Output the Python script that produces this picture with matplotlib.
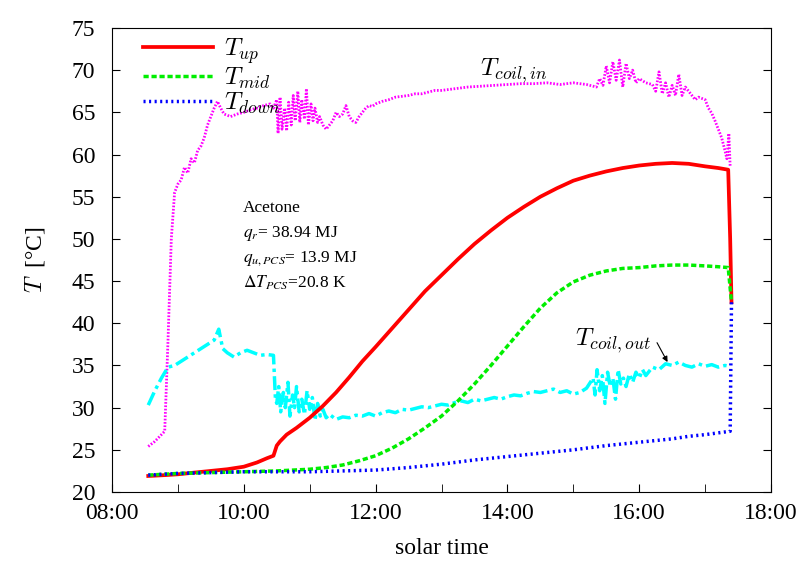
import matplotlib
matplotlib.use("Agg")
import matplotlib.pyplot as plt

plt.rcParams['font.family'] = ['Liberation Serif', 'DejaVu Serif']
plt.rcParams['mathtext.fontset'] = 'cm'

# ---- data (time in decimal hours) ----
t_up = [8.55, 8.8, 9.0, 9.25, 9.5, 9.75, 10.0, 10.2, 10.35, 10.45, 10.5, 10.55, 10.65, 10.8, 11.0,
        11.2, 11.4, 11.6, 11.8, 12.0, 12.25, 12.5, 12.75, 13.0, 13.25, 13.5, 13.75, 14.0, 14.25,
        14.5, 14.75, 15.0, 15.25, 15.5, 15.75, 16.0, 16.25, 16.5, 16.75, 17.0, 17.2, 17.35, 17.38, 17.4]
T_up = [21.9, 22.0, 22.1, 22.3, 22.5, 22.7, 23.0, 23.5, 24.0, 24.3, 25.5, 26.0, 26.8, 27.6, 28.8,
        30.2, 31.8, 33.6, 35.5, 37.2, 39.4, 41.6, 43.8, 45.7, 47.6, 49.4, 51.0, 52.5, 53.8,
        55.0, 56.0, 56.9, 57.5, 58.0, 58.4, 58.7, 58.9, 59.0, 58.9, 58.6, 58.4, 58.2, 50.0, 42.5]

t_mid = [8.55, 9.0, 9.5, 10.0, 10.5, 11.0, 11.25, 11.5, 11.75, 12.0, 12.25, 12.5, 12.75, 13.0,
         13.25, 13.5, 13.75, 14.0, 14.25, 14.5, 14.75, 15.0, 15.25, 15.5, 15.75, 16.0, 16.25,
         16.5, 16.75, 17.0, 17.2, 17.35, 17.4]
T_mid = [22.0, 22.2, 22.3, 22.4, 22.5, 22.7, 22.9, 23.2, 23.7, 24.3, 25.2, 26.3, 27.6, 29.0,
         30.8, 32.8, 35.0, 37.3, 39.6, 41.8, 43.6, 44.9, 45.7, 46.2, 46.5, 46.6, 46.8,
         46.9, 46.9, 46.8, 46.7, 46.6, 42.5]

t_down = [8.55, 9.0, 9.5, 10.0, 10.5, 11.0, 11.5, 12.0, 12.5, 13.0, 13.5, 14.0, 14.5, 15.0,
          15.5, 16.0, 16.5, 16.75, 17.0, 17.38, 17.4]
T_down = [22.0, 22.2, 22.3, 22.4, 22.4, 22.4, 22.5, 22.6, 22.9, 23.3, 23.8, 24.2, 24.6, 25.0,
          25.5, 25.9, 26.3, 26.6, 26.8, 27.2, 42.5]

t_cin = [8.55, 8.65, 8.75, 8.8, 8.85, 8.9, 8.95, 9.0, 9.05, 9.1, 9.15, 9.2, 9.25, 9.3, 9.35,
         9.4, 9.45, 9.5, 9.55, 9.6, 9.65, 9.7, 9.8, 9.9, 10.0, 10.1, 10.2, 10.3, 10.4, 10.45,
         10.5, 10.52, 10.55, 10.58, 10.62, 10.65, 10.68, 10.72, 10.75, 10.78, 10.82, 10.85,
         10.88, 10.92, 10.95, 10.98, 11.02, 11.05, 11.08, 11.12, 11.15, 11.2, 11.25, 11.3,
         11.35, 11.4, 11.45, 11.5, 11.55, 11.6, 11.65, 11.7, 11.75, 11.8, 11.85, 11.9, 11.95,
         12.0, 12.1, 12.2, 12.3, 12.4, 12.5, 12.6, 12.7, 12.8, 12.9, 13.0, 13.2, 13.4, 13.6,
         13.8, 14.0, 14.2, 14.4, 14.6, 14.8, 15.0, 15.2, 15.35, 15.4, 15.45, 15.5, 15.55, 15.6,
         15.65, 15.7, 15.75, 15.8, 15.85, 15.9, 15.95, 16.0, 16.1, 16.2, 16.25, 16.3, 16.35,
         16.4, 16.45, 16.5, 16.55, 16.6, 16.65, 16.7, 16.75, 16.8, 16.85, 16.9, 17.0, 17.05,
         17.1, 17.15, 17.2, 17.25, 17.3, 17.33, 17.36, 17.38]
T_cin = [25.4, 26.0, 26.8, 27.2, 38.0, 50.0, 55.5, 56.5, 57.0, 58.5, 57.8, 59.5, 59.0, 60.5, 61.0,
         62.0, 63.5, 64.5, 65.5, 66.3, 65.5, 64.8, 64.5, 64.8, 65.0, 65.3, 65.5, 65.8, 66.0, 65.5,
         66.5, 62.5, 66.8, 63.0, 65.5, 62.8, 66.2, 63.5, 67.0, 64.0, 67.5, 63.8,
         66.5, 64.2, 67.8, 63.5, 66.0, 64.0, 65.5, 63.8, 64.5, 63.5, 63.0, 63.5,
         64.0, 65.0, 64.5, 64.8, 65.8, 64.5, 64.0, 63.8, 64.5, 65.0, 65.5, 65.8, 65.7,
         66.0, 66.3, 66.5, 66.8, 66.9, 67.0, 67.2, 67.2, 67.4, 67.6, 67.6, 67.8, 68.0, 68.1,
         68.2, 68.3, 68.4, 68.4, 68.5, 68.3, 68.5, 68.3, 68.0, 69.0, 68.2, 70.5, 68.5, 71.0,
         68.8, 71.2, 68.0, 70.8, 69.0, 70.0, 68.5, 69.0, 68.5, 68.3, 67.5, 69.8, 67.2,
         68.5, 66.8, 68.2, 67.0, 69.5, 67.0, 68.0, 67.5, 67.0, 66.5, 66.8, 66.5, 65.5,
         64.9, 64.0, 63.0, 62.0, 60.5, 59.5, 62.5, 58.5]

t_cout = [8.55, 8.65, 8.75, 8.85, 8.95, 9.05, 9.15, 9.25, 9.35, 9.45, 9.55, 9.62, 9.68, 9.75,
          9.85, 9.95, 10.05, 10.15, 10.25, 10.35, 10.45, 10.48, 10.5, 10.53, 10.56, 10.6, 10.63,
          10.67, 10.7, 10.74, 10.77, 10.8, 10.84, 10.88, 10.92, 10.96, 11.0, 11.04, 11.08,
          11.12, 11.16, 11.2, 11.25, 11.3, 11.4, 11.5, 11.6, 11.7, 11.8, 11.9, 12.0, 12.1,
          12.2, 12.3, 12.4, 12.5, 12.6, 12.7, 12.8, 12.9, 13.0, 13.1, 13.2, 13.3, 13.4, 13.5,
          13.6, 13.7, 13.8, 13.9, 14.0, 14.1, 14.2, 14.3, 14.4, 14.5, 14.6, 14.7, 14.8, 14.9,
          15.0, 15.1, 15.2, 15.3, 15.33, 15.36, 15.4, 15.44, 15.48, 15.52, 15.56, 15.6, 15.64,
          15.68, 15.72, 15.76, 15.8, 15.85, 15.9, 15.95, 16.0, 16.05, 16.1, 16.2, 16.3, 16.4,
          16.5, 16.6, 16.7, 16.8, 16.9, 17.0, 17.1, 17.2, 17.3, 17.38]
T_cout = [30.3, 32.0, 33.5, 34.8, 35.0, 35.5, 36.0, 36.5, 37.0, 37.5, 38.0, 39.3, 37.0, 36.5,
          36.0, 36.5, 36.8, 36.5, 36.2, 36.3, 36.2, 31.0, 30.5, 32.5, 29.5, 31.8, 30.0,
          33.0, 29.0, 31.5, 30.0, 32.5, 29.5, 31.0, 29.2, 32.0, 29.8, 31.2, 28.5,
          30.5, 29.0, 29.8, 28.8, 29.2, 28.6, 28.9, 28.8, 29.1, 29.0, 29.3, 29.0, 29.4,
          29.6, 29.4, 29.8, 29.7, 29.9, 30.1, 30.0, 30.2, 30.4, 30.3, 30.6, 30.8, 30.6, 31.0,
          30.8, 31.0, 31.2, 31.0, 31.3, 31.5, 31.4, 31.7, 31.9, 31.8, 32.0, 32.2, 31.8, 32.0,
          31.6, 31.8, 32.3, 33.5, 31.5, 34.5, 32.0, 33.8, 30.5, 34.2, 32.5, 33.5, 31.0,
          34.5, 32.8, 33.5, 32.5, 34.0, 33.0, 34.2, 33.5, 34.5, 33.8, 34.8, 34.5, 35.2,
          35.0, 35.4, 35.0, 34.8, 35.2, 34.9, 35.1, 34.8, 35.0, 34.9]

xticks = [8, 10, 12, 14, 16, 18]
xticklabels = ['08:00', '10:00', '12:00', '14:00', '16:00', '18:00']
yticks = [20, 25, 30, 35, 40, 45, 50, 55, 60, 65, 70, 75]

fig = plt.figure(figsize=(8.04, 5.63), dpi=100)
ax = fig.add_axes([0.1393, 0.1261, 0.8197, 0.8242])

ax.plot(t_cin, T_cin, color='#ff00ff', lw=2.0, ls=(0, (0.6, 0.6)))
ax.plot(t_cout, T_cout, color='#00ffff', lw=2.5, ls=(0, (4, 1.2, 1, 1.2)))
l1, = ax.plot(t_up, T_up, color='#ff0000', lw=2.7, ls='-', label=r'$T_{up}$')
l2, = ax.plot(t_mid, T_mid, color='#00ee00', lw=2.5, ls=(0, (1.5, 0.8)), label=r'$T_{mid}$')
l3, = ax.plot(t_down, T_down, color='#0000ff', lw=2.5, ls=(0, (0.6, 1.0)), label=r'$T_{down}$')

ax.set_xlim(8, 18)
ax.set_ylim(20, 75)
ax.set_xticks(xticks)
ax.set_xticklabels(xticklabels)
ax.set_xticks([9, 11, 13, 15, 17], minor=True)
ax.set_yticks(yticks)
ax.tick_params(axis='both', which='both', direction='in', labelsize=17, top=False, right=True)
ax.tick_params(which='both', length=6)
ax.tick_params(axis='x', pad=8)
ax.tick_params(axis='y', pad=12)
ax.set_xlabel('solar time', fontsize=17, labelpad=10)
ax.set_ylabel(r'$T\;$ [°C]', fontsize=17, labelpad=18)

leg = ax.legend(handles=[l1, l2, l3], loc='upper left', frameon=False, fontsize=18,
                handlelength=2.8, labelspacing=0.0, handletextpad=0.45,
                bbox_to_anchor=(0.02, 1.02), borderpad=0.2)

txt_kw = dict(transform=ax.transAxes, fontsize=12.5, va='center', math_fontfamily='stix')
ax.text(0.1985, 0.612, 'Acetone', **txt_kw)
ax.text(0.1985, 0.558, r'$q_r$= 38.94 MJ', **txt_kw)
ax.text(0.1985, 0.504, r'$q_{u,PCS}$= 13.9 MJ', **txt_kw)
ax.text(0.1985, 0.450, r'$\Delta T_{PCS}$=20.8 K', **txt_kw)

ax.text(14.1, 69.9, r'$T_{coil,in}$', fontsize=18, ha='center', va='center')
ax.text(15.6, 38.0, r'$T_{coil,out}$', fontsize=18, ha='center', va='center')
ax.annotate('', xy=(16.43, 35.4), xytext=(16.27, 37.7),
            arrowprops=dict(arrowstyle='-|>', color='black', lw=0.8, shrinkA=0, shrinkB=0,
                            mutation_scale=8))

fig.savefig('out.png', dpi=100)
